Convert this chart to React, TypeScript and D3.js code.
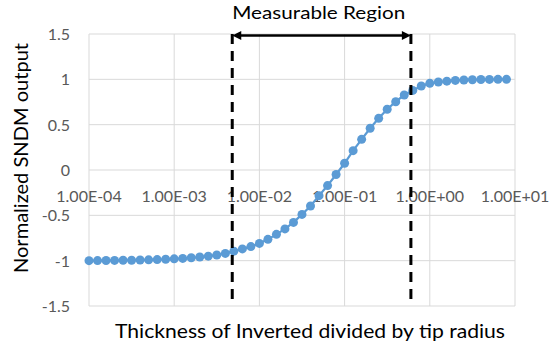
import React from 'react'
import * as d3 from 'd3'

// thickness / tip radius (log spaced, 10 per decade)
const ratios = [
  1.0e-4, 1.259e-4, 1.585e-4, 1.995e-4, 2.512e-4, 3.162e-4, 3.981e-4, 5.012e-4, 6.31e-4, 7.943e-4,
  1.0e-3, 1.259e-3, 1.585e-3, 1.995e-3, 2.512e-3, 3.162e-3, 3.981e-3, 5.012e-3, 6.31e-3, 7.943e-3,
  1.0e-2, 1.259e-2, 1.585e-2, 1.995e-2, 2.512e-2, 3.162e-2, 3.981e-2, 5.012e-2, 6.31e-2, 7.943e-2,
  1.0e-1, 1.259e-1, 1.585e-1, 1.995e-1, 2.512e-1, 3.162e-1, 3.981e-1, 5.012e-1, 6.31e-1, 7.943e-1,
  1.0, 1.259, 1.585, 1.995, 2.512, 3.162, 3.981, 5.012, 6.31, 7.943,
]
const sndm = [
  -1.0, -0.999, -0.998, -0.997, -0.996, -0.995, -0.993, -0.991, -0.988, -0.985,
  -0.98, -0.975, -0.968, -0.96, -0.95, -0.937, -0.92, -0.895, -0.87, -0.845,
  -0.81, -0.765, -0.71, -0.65, -0.578, -0.49, -0.397, -0.283, -0.172, -0.05,
  0.074, 0.213, 0.338, 0.46, 0.57, 0.67, 0.753, 0.827, 0.878, 0.926,
  0.956, 0.97, 0.98, 0.988, 0.993, 0.996, 0.998, 0.999, 1.0, 1.0,
]
const xTicks = [1e-4, 1e-3, 1e-2, 1e-1, 1, 10]
const xTickLabels = ['1.00E-04', '1.00E-03', '1.00E-02', '1.00E-01', '1.00E+00', '1.00E+01']
const yTicks = [-1.5, -1, -0.5, 0, 0.5, 1, 1.5]
const yTickLabels = ['-1.5', '-1', '-0.5', '0', '0.5', '1', '1.5']
const regionBounds = [4.8e-3, 0.6]

const FONT = 'Lato, Calibri, "Open Sans", sans-serif'
const W = 552
const H = 349
const pad = { l: 89, r: 37, t: 34, b: 43 }

export default function App() {
  const x = d3.scaleLog().domain([1e-4, 10]).range([pad.l, W - pad.r])
  const y = d3.scaleLinear().domain([-1.5, 1.5]).range([H - pad.b, pad.t])
  const pts = ratios.map((r, i) => [x(r), y(sndm[i])] as [number, number])
  const line = d3.line()(pts) || ''
  const xa = x(regionBounds[0])
  const xb = x(regionBounds[1])
  const ay = pad.t + 1.5

  return (
    <div style={{ position: 'fixed', left: 0, top: 0 }}>
      <svg width={W} height={H} style={{ display: 'block', background: '#fff' }}>
        {/* grid */}
        {yTicks.map(t => (
          <line key={'gy' + t} x1={pad.l} x2={W - pad.r} y1={y(t)} y2={y(t)} stroke="#D9D9D9" strokeWidth={1} />
        ))}
        {xTicks.map(t => (
          <line key={'gx' + t} x1={x(t)} x2={x(t)} y1={pad.t} y2={H - pad.b} stroke="#D9D9D9" strokeWidth={1} />
        ))}

        {yTicks.map((t, i) => (
          <text key={'ly' + t} x={pad.l - 19} y={y(t) + 6} textAnchor="end" fontSize={16}
            fill="#595959" fontFamily={FONT}>{yTickLabels[i]}</text>
        ))}
        {xTicks.map((t, i) => (
          <text key={'lx' + t} x={x(t)} y={y(0) + 32} textAnchor="middle" fontSize={16}
            fill="#595959" fontFamily={FONT}>{xTickLabels[i]}</text>
        ))}

        {/* series */}
        <path d={line} fill="none" stroke="#5B9BD5" strokeWidth={2.25} />
        {pts.map((p, i) => (
          <circle key={i} cx={p[0]} cy={p[1]} r={4.5} fill="#5B9BD5" />
        ))}

        {/* measurable region */}
        {[xa, xb].map((xx, i) => (
          <line key={'d' + i} x1={xx} x2={xx} y1={pad.t} y2={H - pad.b} stroke="#000"
            strokeWidth={3} strokeDasharray="10 7" />
        ))}
        <line x1={xa + 6} x2={xb - 6} y1={ay} y2={ay} stroke="#000" strokeWidth={2.5} />
        <polygon points={`${xa},${ay} ${xa + 9},${ay - 4.5} ${xa + 9},${ay + 4.5}`} fill="#000" />
        <polygon points={`${xb},${ay} ${xb - 9},${ay - 4.5} ${xb - 9},${ay + 4.5}`} fill="#000" />
        <text x={xa} y={19} fontSize={17} fill="#000" fontFamily={FONT}
          textLength={173} lengthAdjust="spacingAndGlyphs">Measurable Region</text>

        {/* axis titles */}
        <text transform={`translate(28,${158}) rotate(-90)`} textAnchor="middle" fontSize={20}
          fill="#000" fontFamily={FONT} textLength={230} lengthAdjust="spacingAndGlyphs">
          Normalized SNDM output
        </text>
        <text x={310} y={338} textAnchor="middle" fontSize={20} fill="#000" fontFamily={FONT}
          textLength={390} lengthAdjust="spacingAndGlyphs">
          Thickness of Inverted divided by tip radius
        </text>
      </svg>
    </div>
  )
}
